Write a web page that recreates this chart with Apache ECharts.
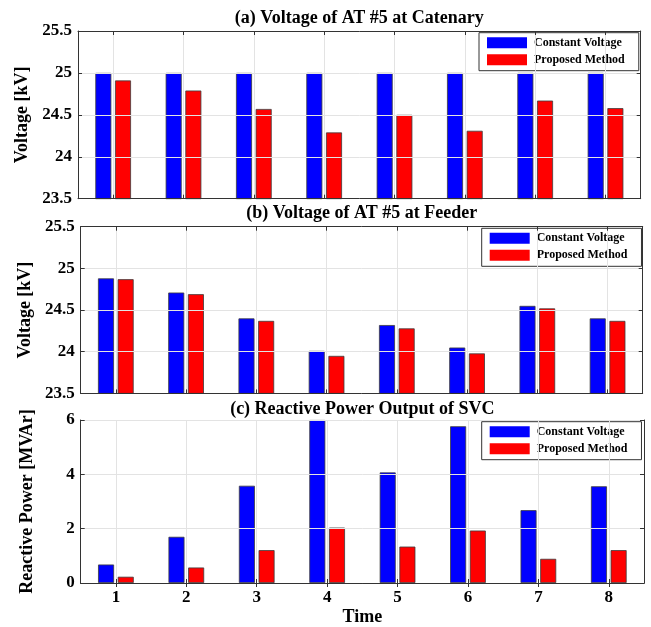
<!DOCTYPE html>
<html>
<head>
<meta charset="utf-8">
<script src="https://cdn.jsdelivr.net/npm/echarts@6/dist/echarts.min.js"></script>
<style>
  html, body { margin: 0; padding: 0; background: #fff; }
  #chart { width: 651px; height: 627px; }
</style>
</head>
<body>
<div id="chart"></div>
<script>
// Time steps
const categories = ['1', '2', '3', '4', '5', '6', '7', '8'];

// (a) AT #5 voltage at the catenary [kV]
const catenaryConstant = [25.00, 25.00, 25.00, 25.00, 25.00, 25.00, 25.00, 25.00];
const catenaryProposed = [24.91, 24.79, 24.57, 24.29, 24.50, 24.31, 24.67, 24.58];

// (b) AT #5 voltage at the feeder [kV]
const feederConstant = [24.88, 24.71, 24.40, 24.01, 24.32, 24.05, 24.55, 24.40];
const feederProposed = [24.87, 24.69, 24.37, 23.95, 24.28, 23.98, 24.52, 24.37];

// (c) SVC reactive power output [MVAr]
const svcConstant = [0.68, 1.70, 3.58, 6.00, 4.07, 5.77, 2.68, 3.56];
const svcProposed = [0.23, 0.57, 1.21, 2.04, 1.34, 1.93, 0.89, 1.21];

const seriesNames = ['Constant Voltage', 'Proposed Method'];
const panelTitles = [
  '(a) Voltage of AT #5 at Catenary',
  '(b) Voltage of AT #5 at Feeder',
  '(c) Reactive Power Output of SVC'
];
const yNames = ['Voltage [kV]', 'Voltage [kV]', 'Reactive Power [MVAr]'];
const yRanges = [[23.5, 25.5, 0.5], [23.5, 25.5, 0.5], [0, 6, 2]];

const FONT = "'Liberation Serif', 'Times New Roman', serif";
const AXIS_COLOR = '#333';
const GRID_COLOR = '#e3e3e3';

const grids = [
  { left: 78, top: 31, width: 562.7, height: 167.7 },
  { left: 80.7, top: 226.7, width: 562, height: 166.7 },
  { left: 80.7, top: 420, width: 563.3, height: 166.7 }
];
const legendPos = [
  { left: 479, top: 32.7 },
  { left: 481.7, top: 228.3 },
  { left: 481.7, top: 421.7 }
];
const titleY = [9, 204, 400];

const xAxes = [];
const yAxes = [];
grids.forEach((g, i) => {
  const last = i === grids.length - 1;
  // bottom category axis
  xAxes.push({
    type: 'category', gridIndex: i, data: categories, position: 'bottom',
    axisLine: { show: true, lineStyle: { color: AXIS_COLOR, width: 1 } },
    axisTick: { show: true, inside: true, alignWithLabel: true, length: 4, lineStyle: { color: AXIS_COLOR } },
    axisLabel: { show: last, color: '#000', fontFamily: FONT, fontWeight: 'bold', fontSize: 17, margin: 6 },
    splitLine: { show: true, alignWithLabel: true, lineStyle: { color: GRID_COLOR, width: 1 } },
    name: last ? 'Time' : '', nameLocation: 'middle', nameGap: 25,
    nameTextStyle: { color: '#000', fontFamily: FONT, fontWeight: 'bold', fontSize: 18 },
    z: 5
  });
  // top box edge with ticks
  xAxes.push({
    type: 'category', gridIndex: i, data: categories, position: 'top',
    axisLine: { show: true, lineStyle: { color: AXIS_COLOR, width: 1 } },
    axisTick: { show: true, inside: true, alignWithLabel: true, length: 4, lineStyle: { color: AXIS_COLOR } },
    axisLabel: { show: false }, splitLine: { show: false }, z: 5
  });
  const [mn, mx, step] = yRanges[i];
  yAxes.push({
    type: 'value', gridIndex: i, min: mn, max: mx, interval: step, position: 'left',
    axisLine: { show: true, lineStyle: { color: AXIS_COLOR, width: 1 } },
    axisTick: { show: true, inside: true, length: 4, lineStyle: { color: AXIS_COLOR } },
    axisLabel: { color: '#000', fontFamily: FONT, fontWeight: 'bold', fontSize: 17, margin: 6 },
    splitLine: { show: true, lineStyle: { color: GRID_COLOR, width: 1 } },
    name: yNames[i], nameLocation: 'middle', nameRotate: 90, nameGap: 44,
    nameTextStyle: { color: '#000', fontFamily: FONT, fontWeight: 'bold', fontSize: 18 },
    z: 5
  });
  yAxes.push({
    type: 'value', gridIndex: i, min: mn, max: mx, interval: step, position: 'right',
    axisLine: { show: true, lineStyle: { color: AXIS_COLOR, width: 1 } },
    axisTick: { show: true, inside: true, length: 4, lineStyle: { color: AXIS_COLOR } },
    axisLabel: { show: false }, splitLine: { show: false }, z: 5
  });
});

const panelData = [
  [catenaryConstant, catenaryProposed],
  [feederConstant, feederProposed],
  [svcConstant, svcProposed]
];
const colors = ['#0000ff', '#ff0000'];

const series = [];
panelData.forEach((pair, i) => {
  pair.forEach((values, k) => {
    series.push({
      type: 'bar', name: seriesNames[k],
      xAxisIndex: i * 2, yAxisIndex: i * 2,
      data: values,
      barWidth: 16, barGap: '23%',
      itemStyle: { color: colors[k], borderColor: '#3c3c3c', borderWidth: 0.8 },
      emphasis: { disabled: true },
      animation: false
    });
  });
});

const legends = legendPos.map(p => ({
  left: p.left, top: p.top, orient: 'vertical',
  data: seriesNames.map(n => ({ name: n, icon: 'rect' })),
  itemWidth: 40, itemHeight: 11, itemGap: 5,
  padding: [4, 14, 5, 8],
  backgroundColor: '#fff', borderColor: AXIS_COLOR, borderWidth: 1,
  selectedMode: false,
  textStyle: { color: '#000', fontFamily: FONT, fontWeight: 'bold', fontSize: 12, lineHeight: 12, padding: [0, 0, 0, 2] },
  itemStyle: { borderWidth: 0 }
}));

const titles = panelTitles.map((t, i) => ({
  type: 'text',
  x: grids[i].left + grids[i].width / 2,
  y: titleY[i],
  style: {
    text: t, align: 'center', verticalAlign: 'top',
    fill: '#000', font: "bold 18px 'Liberation Serif', 'Times New Roman', serif"
  }
}));

const chart = echarts.init(document.getElementById('chart'), null, { renderer: 'canvas' });
chart.setOption({
  backgroundColor: '#fff',
  animation: false,
  grid: grids,
  xAxis: xAxes,
  yAxis: yAxes,
  legend: legends,
  series: series,
  graphic: titles
});
</script>
</body>
</html>
